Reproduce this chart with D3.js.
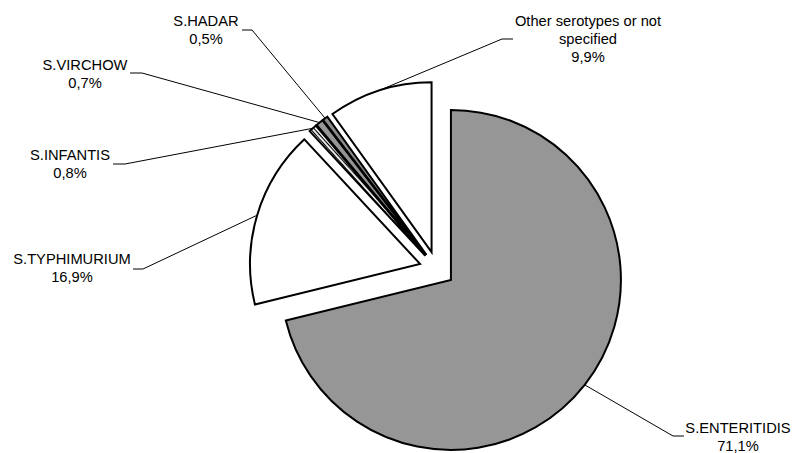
<!DOCTYPE html>
<html>
<head>
<meta charset="utf-8">
<script src="https://cdn.jsdelivr.net/npm/d3@7"></script>
<style>
  html, body { margin: 0; padding: 0; background: #fff; }
  svg text { font-family: "Liberation Sans", Arial, sans-serif; font-size: 14.7px; fill: #000; }
</style>
</head>
<body>
<svg id="chart" width="795" height="453"></svg>
<script>
// ---- data ----
const categories = ["S.ENTERITIDIS", "S.TYPHIMURIUM", "S.INFANTIS", "S.VIRCHOW", "S.HADAR", "Other serotypes or not specified"];
const values = [71.1, 16.9, 0.8, 0.7, 0.5, 9.9];
const valueLabels = ["71,1%", "16,9%", "0,8%", "0,7%", "0,5%", "9,9%"];
const labelLines = [["S.ENTERITIDIS"], ["S.TYPHIMURIUM"], ["S.INFANTIS"], ["S.VIRCHOW"], ["S.HADAR"], ["Other serotypes or not", "specified"]];

// ---- layout (not data) ----
const fills = ["#969696", "#ffffff", "url(#hatch)", "#969696", "#8a8a8a", "#ffffff"];
const labelCenter = [[738, 433], [72, 264], [70, 160], [85, 70], [206, 26], [588, 26]]; // x centre, first baseline
const elbow = [[673, 436, 684], [143, 269, 133], [125, 164, 113], [142, 73, 130], [252, 30, 242], [502, 39, 513]];

const svg = d3.select("#chart");
const defs = svg.append("defs");
const pat = defs.append("pattern").attr("id", "hatch").attr("patternUnits", "userSpaceOnUse")
  .attr("width", 3).attr("height", 3).attr("patternTransform", "rotate(48)");
pat.append("rect").attr("width", 3).attr("height", 3).attr("fill", "#fff");
pat.append("rect").attr("width", 3).attr("height", 1.2).attr("fill", "#000");

const cx = 437, cy = 269, R = 170, explode = 17.7;
const pie = d3.pie().sort(null).value(d => d);
const arcs = pie(values);
const arc = d3.arc().innerRadius(0).outerRadius(R);

const g = svg.append("g").attr("transform", `translate(${cx},${cy})`);

arcs.forEach((a, i) => {
  const mid = (a.startAngle + a.endAngle) / 2;
  const ox = explode * Math.sin(mid), oy = -explode * Math.cos(mid);
  g.append("path")
    .attr("d", arc(a))
    .attr("transform", `translate(${ox},${oy})`)
    .attr("fill", fills[i])
    .attr("stroke", "#000")
    .attr("stroke-width", 2)
    .attr("stroke-linejoin", "miter");
});

// leader lines and labels
arcs.forEach((a, i) => {
  const mid = (a.startAngle + a.endAngle) / 2;
  const r = explode + R;
  const px = cx + r * Math.sin(mid), py = cy - r * Math.cos(mid);
  const e = elbow[i];
  svg.append("polyline")
    .attr("points", `${px},${py} ${e[0]},${e[1]} ${e[2]},${e[1]}`)
    .attr("fill", "none").attr("stroke", "#000").attr("stroke-width", 1);

  const lines = labelLines[i].concat([valueLabels[i]]);
  const t = svg.append("text").attr("text-anchor", "middle");
  lines.forEach((s, k) => {
    t.append("tspan").attr("x", labelCenter[i][0]).attr("y", labelCenter[i][1] + k * 18).text(s);
  });
});
</script>
</body>
</html>
